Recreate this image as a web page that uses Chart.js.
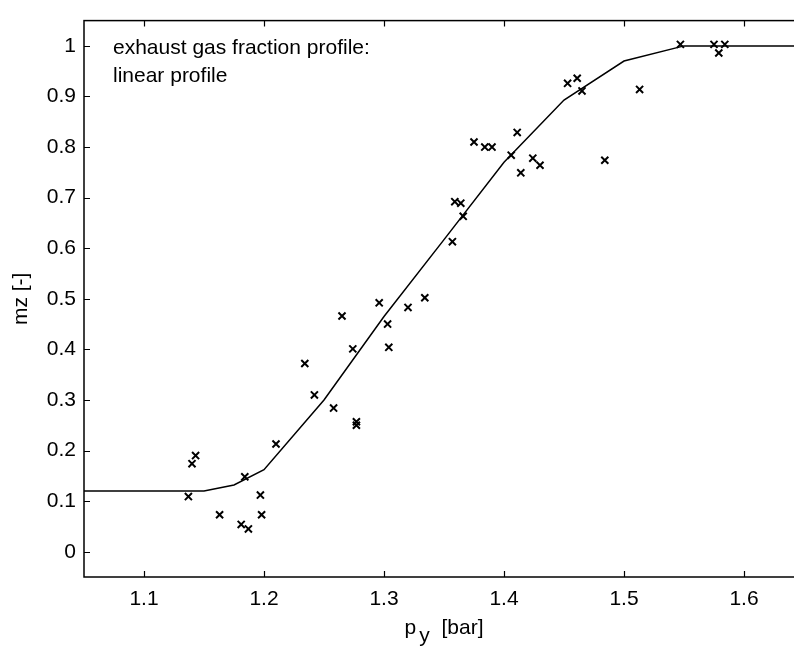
<!DOCTYPE html>
<html>
<head>
<meta charset="utf-8">
<script src="https://cdn.jsdelivr.net/npm/chart.js@4"></script>
<style>
  html, body { margin: 0; padding: 0; background: #fff; overflow: hidden; }
  #wrap { width: 794px; height: 652px; overflow: hidden; }
</style>
</head>
<body>
<div id="wrap"><canvas id="chart" width="812" height="652"></canvas></div>
<script>
// measured points (p_y in bar, mz in -)
const pyMeas = [1.137, 1.140, 1.143, 1.163, 1.181, 1.184, 1.187, 1.197, 1.198, 1.210,
  1.234, 1.242, 1.258, 1.265, 1.274, 1.277, 1.277, 1.296, 1.303, 1.304,
  1.320, 1.334, 1.357, 1.359, 1.364, 1.366, 1.375, 1.384, 1.390, 1.406,
  1.411, 1.414, 1.424, 1.430, 1.453, 1.461, 1.465, 1.484, 1.513, 1.547,
  1.575, 1.579, 1.584];
const mzMeas = [0.109, 0.174, 0.190, 0.073, 0.054, 0.148, 0.045, 0.112, 0.073, 0.213,
  0.372, 0.310, 0.284, 0.466, 0.401, 0.250, 0.257, 0.492, 0.450, 0.404,
  0.483, 0.502, 0.613, 0.692, 0.689, 0.663, 0.810, 0.800, 0.800, 0.784,
  0.829, 0.749, 0.778, 0.764, 0.926, 0.936, 0.911, 0.774, 0.914, 1.003,
  1.003, 0.986, 1.003];

// linear profile
const pyProfile = [1.05, 1.15, 1.175, 1.2, 1.25, 1.3, 1.35, 1.4, 1.45, 1.5, 1.55, 1.65];
const mzProfile = [0.12, 0.12, 0.132, 0.162, 0.30, 0.465, 0.617, 0.77, 0.893, 0.97, 1.0, 1.0];

const xTicks = [1.1, 1.2, 1.3, 1.4, 1.5, 1.6];
const yTicks = [0, 0.1, 0.2, 0.3, 0.4, 0.5, 0.6, 0.7, 0.8, 0.9, 1];

const FONT = '"Liberation Sans", Arial, Helvetica, sans-serif';

const frame = {
  id: 'frame',
  afterDraw(chart) {
    const ctx = chart.ctx;
    const a = chart.chartArea;
    const xs = chart.scales.x, ys = chart.scales.y;
    ctx.save();
    ctx.strokeStyle = '#000';
    ctx.lineWidth = 1.5;
    ctx.strokeRect(a.left, a.top, a.right - a.left, a.bottom - a.top);
    // inward ticks on all sides
    ctx.lineWidth = 1.2;
    ctx.beginPath();
    xTicks.forEach(v => {
      const px = Math.round(xs.getPixelForValue(v)) + 0.5;
      ctx.moveTo(px, a.bottom); ctx.lineTo(px, a.bottom - 6);
      ctx.moveTo(px, a.top); ctx.lineTo(px, a.top + 6);
    });
    yTicks.forEach(v => {
      const py = Math.round(ys.getPixelForValue(v)) + 0.5;
      ctx.moveTo(a.left, py); ctx.lineTo(a.left + 6, py);
      ctx.moveTo(a.right, py); ctx.lineTo(a.right - 6, py);
    });
    ctx.stroke();

    ctx.fillStyle = '#000';
    // annotation
    ctx.font = '21px ' + FONT;
    ctx.textBaseline = 'alphabetic';
    ctx.textAlign = 'left';
    ctx.fillText('exhaust gas fraction profile:', 113, 54);
    ctx.fillText('linear profile', 113, 82);

    // x title with subscript
    ctx.font = '21px ' + FONT;
    const wp = ctx.measureText('p').width;
    const wy = ctx.measureText('y').width;
    const wb = ctx.measureText(' [bar]').width;
    const total = wp + 3 + wy + 6 + wb;
    let x0 = (a.left + a.right) / 2 - total / 2;
    ctx.fillText('p', x0, 634);
    ctx.fillText('y', x0 + wp + 3, 642);
    ctx.fillText(' [bar]', x0 + wp + 3 + wy + 6, 634);

    // y title
    ctx.translate(27, (a.top + a.bottom) / 2);
    ctx.rotate(-Math.PI / 2);
    ctx.textAlign = 'center';
    ctx.fillText('mz [-]', 0, 0);
    ctx.restore();
  }
};

new Chart(document.getElementById('chart'), {
  type: 'scatter',
  data: {
    datasets: [
      {
        label: 'measured',
        data: pyMeas.map((x, i) => ({ x: x, y: mzMeas[i] })),
        pointStyle: 'crossRot',
        pointRadius: 5,
        pointBorderWidth: 2,
        borderColor: '#000',
        backgroundColor: '#000',
        showLine: false
      },
      {
        label: 'linear profile',
        data: pyProfile.map((x, i) => ({ x: x, y: mzProfile[i] })),
        showLine: true,
        borderColor: '#000',
        borderWidth: 1.5,
        pointRadius: 0,
        tension: 0
      }
    ]
  },
  options: {
    responsive: false,
    animation: false,
    events: [],
    layout: { padding: { top: 9, right: 8, left: 0, bottom: 0 } },
    plugins: {
      legend: { display: false },
      tooltip: { enabled: false }
    },
    scales: {
      x: {
        type: 'linear',
        min: 1.05,
        max: 1.65,
        afterBuildTicks: s => { s.ticks = xTicks.map(v => ({ value: v })); },
        afterFit: s => { s.height = 75; },
        grid: { display: false, drawTicks: false },
        border: { display: false },
        ticks: {
          padding: 10,
          color: '#000',
          font: { family: FONT, size: 21 },
          callback: v => v.toFixed(1)
        }
      },
      y: {
        type: 'linear',
        min: -0.05,
        max: 1.05,
        afterBuildTicks: s => { s.ticks = yTicks.map(v => ({ value: v })); },
        afterFit: s => { s.width = 84; },
        grid: { display: false, drawTicks: false },
        border: { display: false },
        ticks: {
          padding: 8,
          color: '#000',
          font: { family: FONT, size: 21 },
          callback: v => (v === 0 || v === 1) ? String(v) : v.toFixed(1)
        }
      }
    }
  },
  plugins: [frame]
});
</script>
</body>
</html>
